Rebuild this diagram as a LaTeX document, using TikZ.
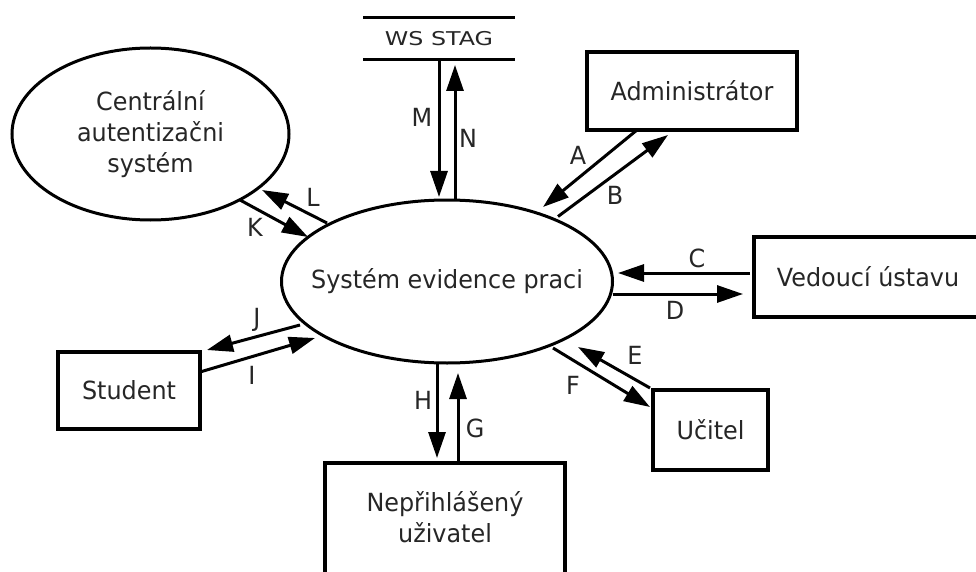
\documentclass[tikz,border=0pt]{standalone}
\usepackage{fontspec}
\setmainfont{DejaVu Sans}[FakeStretch=0.955]
\newfontfamily\wsfont{DejaVu Sans}[FakeStretch=1.25]
\usetikzlibrary{arrows.meta,calc,shapes.geometric}

\begin{document}
\begin{tikzpicture}[x=1pt,y=-1pt,
  every node/.style={inner sep=0pt, outer sep=0pt, text=black!85,
    font=\fontsize{25}{31}\selectfont},
  entity/.style={draw=black, line width=3.5pt, rectangle},
  process/.style={draw=black, line width=3pt, ellipse},
  flow/.style={line width=3pt, -{Triangle[length=26pt,width=17pt]}}
]
\clip (0,0) rectangle (976,572);

% processes
\node[process, minimum width=331pt, minimum height=163pt,
  label={[name=systxt]center:Systém evidence praci}] (sys) at (447,281.5) {};
\node[process, minimum width=277pt, minimum height=172pt,
  label={[name=castxt, align=center]center:Centrální\\autentizačni\\systém}] (cas) at (150.5,134) {};

% external entities
\node[entity, minimum width=210pt, minimum height=78pt] (admin) at (692,91) {Administrátor};
\node[entity, minimum width=228pt, minimum height=80pt] (ved) at (868,277) {Vedoucí ústavu};
\node[entity, minimum width=115pt, minimum height=80pt] (ucitel) at (710.5,430) {Učitel};
\node[entity, minimum width=142pt, minimum height=77pt] (student) at (129,390.5) {Student};
\node[entity, minimum width=240pt, minimum height=150pt, anchor=north] (nep) at (445,463) {};
\node[align=center] (neptxt) at (445,517.5) {Nepřihlášený\\uživatel};

% data store
\node[minimum width=152pt, minimum height=42pt, font=\wsfont\fontsize{19}{22}\selectfont] (ws) at (439,39) {WS STAG};
\draw[line width=3pt] (ws.north west) -- (ws.north east) (ws.south west) -- (ws.south east);

% data flows
\draw[flow] (ws.south) -- ($(sys.north)+(-8,-3)$);
\draw[flow] ($(sys.north)+(8,0)$) -- ($(ws.south)+(16,5)$);
\draw[flow] ($(admin.south west)+(50,0)$) -- ($(sys.center)+(96,-74.5)$);
\draw[flow] ($(sys.center)+(111,-65)$) -- ($(admin.south west)+(81,5)$);
\draw[flow] ($(ved.west)+(-4,-4)$) -- ($(sys.east)+(5.5,-8.5)$);
\draw[flow] ($(sys.east)+(0,12.5)$) -- ($(ved.west)+(-11,17)$);
\draw[flow] ($(ucitel.north west)+(-3,-2)$) -- ($(sys.center)+(131,65.5)$);
\draw[flow] ($(sys.center)+(106,66.5)$) -- ($(ucitel.north west)+(-3,17)$);
\draw[flow] ($(sys.south)+(-10,0)$) -- ($(nep.north)+(-8,-5)$);
\draw[flow] ($(nep.north)+(13,0)$) -- ($(sys.south)+(11,10)$);
\draw[flow] ($(sys.center)+(-147,43.5)$) -- ($(student.north east)+(7,-2)$);
\draw[flow] ($(student.north east)+(0,20)$) -- ($(sys.center)+(-132,56.5)$);
\draw[flow] ($(cas.center)+(89.5,66)$) -- ($(sys.center)+(-139,-44.5)$);
\draw[flow] ($(sys.center)+(-120,-58.5)$) -- ($(cas.center)+(111.5,56)$);

% flow labels
\node (lA) at (578,155) {A};
\node (lB) at (615,195) {B};
\node (lC) at (697,258) {C};
\node (lD) at (675,310) {D};
\node (lE) at (635,355) {E};
\node (lF) at (573,385) {F};
\node (lG) at (475,428) {G};
\node (lH) at (423,400) {H};
\node (lI) at (252,375) {I};
\node (lJ) at (257,320) {J};
\node (lK) at (255,227) {K};
\node (lL) at (313,197) {L};
\node (lM) at (422,117) {M};
\node (lN) at (468,138) {N};
\end{tikzpicture}
\end{document}
